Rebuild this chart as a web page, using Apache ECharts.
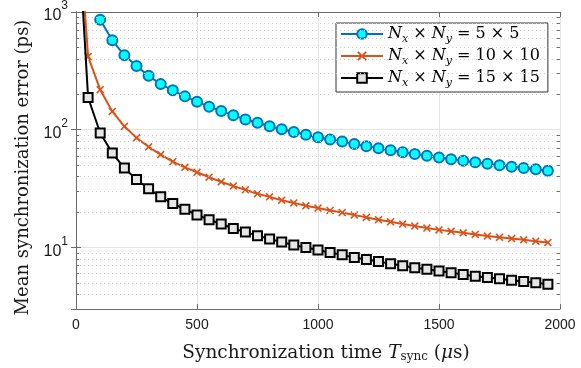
<!DOCTYPE html>
<html>
<head>
<meta charset="utf-8">
<script src="https://cdn.jsdelivr.net/npm/echarts@6/dist/echarts.min.js"></script>
<style>html,body{margin:0;padding:0;background:#fff;}#c{width:581px;height:368px;}</style>
</head>
<body>
<div id="c"></div>
<script>
// ---- data ----
var seriesNames = ['5 \u00d7 5', '10 \u00d7 10', '15 \u00d7 15'];
var tBlue = [100,150,200,250,300,350,400,450,500,550,600,650,700,750,800,850,900,950,1000,1050,1100,1150,1200,1250,1300,1350,1400,1450,1500,1550,1600,1650,1700,1750,1800,1850,1900,1950];
var errBlue = [858,575,429,347,287,244,216,192,173,157,144,133,122,114.5,107,101,95.5,90.5,86.3,82.6,79.5,75.5,72.5,69.6,67,64.5,62.2,60.2,58.0,56.2,54.6,53,51.4,50,48.5,47.3,46.1,44.9];
var tOrange = [25,50,100,150,200,250,300,350,400,450,500,550,600,650,700,750,800,850,900,950,1000,1050,1100,1150,1200,1250,1300,1350,1400,1450,1500,1550,1600,1650,1700,1750,1800,1850,1900,1950];
var errOrange = [2200,418,219,143,107,85.3,71.6,61.5,53.5,47.9,43.5,39.5,36.1,33.2,30.9,28.6,26.9,25.2,23.9,22.6,21.6,20.6,19.8,18.9,18.0,17.2,16.5,15.8,15.2,14.6,14.1,13.7,13.3,12.9,12.5,12.2,11.9,11.6,11.3,11.0];
var tBlack = [25,50,100,150,200,250,300,350,400,450,500,550,600,650,700,750,800,850,900,950,1000,1050,1100,1150,1200,1250,1300,1350,1400,1450,1500,1550,1600,1650,1700,1750,1800,1850,1900,1950];
var errBlack = [1400,188,93.8,63.3,47.2,37.8,31.5,26.9,23.6,21.1,18.9,17.2,15.8,14.5,13.5,12.6,11.8,11.1,10.5,10.0,9.5,9.04,8.65,8.21,7.89,7.60,7.27,7.0,6.73,6.52,6.31,6.11,5.88,5.69,5.55,5.41,5.27,5.14,5.01,4.88];
var yMinorTicks = [4,5,6,7,8,9,20,30,40,50,60,70,80,90,200,300,400,500,600,700,800,900];
var xMin = 0, xMax = 2000, xStep = 500, yMin = 3, yMax = 1000;

function pairs(xs, ys, hideFirst) {
  return xs.map(function (x, i) {
    var d = { value: [x, ys[i]] };
    if (hideFirst && i === 0) d.symbol = 'none';
    return d;
  });
}

var serif = '"DejaVu Serif", "Liberation Serif", serif';
var sans = '"Liberation Sans", Arial, sans-serif';
var axisColor = '#6b6b6b';
var txt = '#1a1a1a';

var minorGrid = yMinorTicks.map(function (v) { return { yAxis: v }; });
var minorTickMarks = [];
yMinorTicks.forEach(function (v) {
  minorTickMarks.push([{ coord: [xMin, v] }, { coord: [xMin + 13, v] }]);
  minorTickMarks.push([{ coord: [xMax - 13, v] }, { coord: [xMax, v] }]);
});

var xPath = 'path://M0,1.4 L1.4,0 L5,3.6 L8.6,0 L10,1.4 L6.4,5 L10,8.6 L8.6,10 L5,6.4 L1.4,10 L0,8.6 L3.6,5 Z';

var chart = echarts.init(document.getElementById('c'), null, { renderer: 'canvas' });
chart.setOption({
  animation: false,
  backgroundColor: '#ffffff',
  grid: { left: 76, right: 21, top: 12, bottom: 55 },
  legend: {
    orient: 'vertical',
    left: 336, top: 23,
    backgroundColor: '#ffffff',
    borderColor: '#333333',
    borderWidth: 1,
    borderRadius: 0,
    padding: [3, 8, 3, 4],
    itemGap: 3,
    itemWidth: 42,
    itemHeight: 12,
    formatter: function (name) {
      return '{i|N}{s|x}{t| \u00d7 }{i|N}{s|y}{t| = ' + name + '}';
    },
    textStyle: {
      rich: {
        i: { fontFamily: serif, fontStyle: 'italic', fontSize: 16, color: '#000', height: 22 },
        s: { fontFamily: serif, fontStyle: 'italic', fontSize: 11, color: '#000', verticalAlign: 'bottom', padding: [6, 0, 0, 0] },
        t: { fontFamily: serif, fontSize: 16, color: '#000' }
      }
    },
    data: seriesNames
  },
  xAxis: [{
    type: 'value', min: xMin, max: xMax, interval: xStep,
    position: 'bottom',
    axisLine: { show: true, lineStyle: { color: axisColor, width: 1 } },
    axisTick: { show: true, inside: true, length: 5, lineStyle: { color: axisColor } },
    axisLabel: { fontFamily: sans, fontSize: 14, color: txt, margin: 9, formatter: function (v) { return String(v); } },
    splitLine: { show: true, lineStyle: { color: '#e3e3e3', width: 1 } },
    name: '{t|Synchronization time }{i|T}{s|sync}{t| (}{i|\u03bc}{t|s)}',
    nameLocation: 'middle', nameGap: 35,
    nameTextStyle: {
      padding: [0, 0, 0, 16],
      rich: {
        t: { fontFamily: serif, fontSize: 18.5, color: txt },
        i: { fontFamily: serif, fontStyle: 'italic', fontSize: 18.5, color: txt },
        s: { fontFamily: serif, fontSize: 12, color: txt, verticalAlign: 'bottom', padding: [6, 0, 0, 0] }
      }
    }
  }, {
    type: 'value', min: xMin, max: xMax, interval: xStep,
    position: 'top',
    axisLine: { show: true, lineStyle: { color: axisColor, width: 1 } },
    axisTick: { show: true, inside: true, length: 5, lineStyle: { color: axisColor } },
    axisLabel: { show: false },
    splitLine: { show: false }
  }],
  yAxis: [{
    type: 'log', logBase: 10, min: yMin, max: yMax,
    position: 'left',
    axisLine: { show: true, lineStyle: { color: axisColor, width: 1 } },
    axisTick: { show: true, inside: true, length: 5, lineStyle: { color: axisColor } },
    axisLabel: {
      fontFamily: sans, fontSize: 15, color: txt, margin: 8,
      formatter: function (v) {
        var e = Math.round(Math.log10(v));
        if (Math.abs(Math.pow(10, e) - v) > 1e-6 * v) return '';
        return '{b|10}{p|' + e + '}';
      },
      rich: {
        b: { fontFamily: sans, fontSize: 16, color: txt, padding: [8, 0, 0, 0] },
        p: { fontFamily: sans, fontSize: 12, color: txt, verticalAlign: 'top', padding: [0, 0, 6, 0] }
      }
    },
    splitLine: { show: true, lineStyle: { color: '#e3e3e3', width: 1 } },
    name: 'Mean synchronization error (ps)',
    nameLocation: 'middle', nameGap: 42,
    nameTextStyle: { fontFamily: serif, fontSize: 18, color: txt, padding: [0, 14, 0, 0] }
  }, {
    type: 'log', logBase: 10, min: yMin, max: yMax,
    position: 'right',
    axisLine: { show: true, lineStyle: { color: axisColor, width: 1 } },
    axisTick: { show: true, inside: true, length: 5, lineStyle: { color: axisColor } },
    axisLabel: { show: false },
    splitLine: { show: false }
  }],
  series: [{
    name: seriesNames[0], type: 'line',
    xAxisIndex: 0, yAxisIndex: 0,
    data: pairs(tBlue, errBlue, false),
    symbol: 'circle', symbolSize: 10,
    lineStyle: { color: '#0072BD', width: 2 },
    itemStyle: { color: '#00FFFF', borderColor: '#0072BD', borderWidth: 2 },
    z: 3,
    markLine: {
      silent: true, symbol: ['none', 'none'], label: { show: false },
      animation: false,
      data: minorGrid,
      lineStyle: { color: '#cfcfcf', type: [1, 3], width: 1 }
    }
  }, {
    name: seriesNames[1], type: 'line',
    xAxisIndex: 0, yAxisIndex: 0,
    data: pairs(tOrange, errOrange, true),
    symbol: xPath, symbolSize: 8,
    lineStyle: { color: '#D95319', width: 2 },
    itemStyle: { color: '#D95319', borderWidth: 0 },
    z: 4,
    markLine: {
      silent: true, symbol: ['none', 'none'], label: { show: false },
      animation: false,
      data: minorTickMarks,
      lineStyle: { color: axisColor, type: 'solid', width: 1 }
    }
  }, {
    name: seriesNames[2], type: 'line',
    xAxisIndex: 0, yAxisIndex: 0,
    data: pairs(tBlack, errBlack, true),
    symbol: 'rect', symbolSize: 9,
    lineStyle: { color: '#000000', width: 2 },
    itemStyle: { color: '#e6e6e6', borderColor: '#000000', borderWidth: 2 },
    z: 5
  }]
});
</script>
</body>
</html>
